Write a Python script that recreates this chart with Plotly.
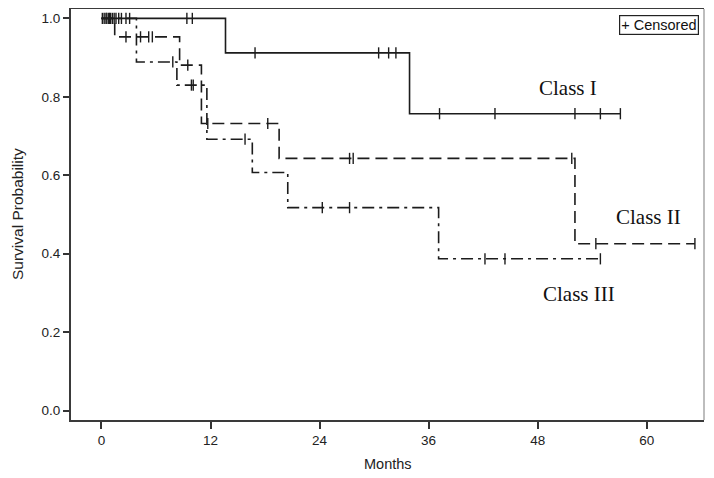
import plotly.graph_objects as go
import numpy as np

# ---- data (months, survival probability) ----
x_ticks = [0, 12, 24, 36, 48, 60]
y_ticks = [0.0, 0.2, 0.4, 0.6, 0.8, 1.0]

class1_times = [0, 13.65, 33.9, 57.1]
class1_surv = [1.0, 0.912, 0.757, 0.757]
class1_censor = [0.3, 0.6, 0.9, 1.2, 1.6, 1.9, 2.7, 3.1, 9.4, 10.0,
                 16.9, 30.5, 31.6, 32.4, 37.2, 43.3, 52.1, 54.9, 57.1]

class2_times = [0, 1.46, 8.6, 11.0, 19.55, 52.1, 65.3]
class2_surv = [1.0, 0.953, 0.881, 0.732, 0.643, 0.4255, 0.4255]
class2_censor = [0.5, 1.0, 2.7, 4.3, 5.2, 5.6, 9.5, 11.7, 18.3,
                 27.3, 27.7, 51.75, 54.4, 65.3]

class3_times = [0, 3.85, 8.3, 11.6, 16.6, 20.5, 37.1, 54.9]
class3_surv = [1.0, 0.889, 0.83, 0.692, 0.607, 0.5175, 0.387, 0.387]
class3_censor = [0.1, 0.8, 1.4, 2.2, 7.85, 9.9, 10.1, 15.8, 24.3,
                 27.3, 42.2, 44.4, 54.9]

labels = ["Class I", "Class II", "Class III"]
label_x = [51.3, 60.15, 52.5]
label_y = [0.822, 0.4935, 0.298]


def surv_at(times, surv, t):
    idx = np.searchsorted(np.array(times), t, side="right") - 1
    return surv[max(idx, 0)]


INK = "#1c1c1c"
SANS = "Liberation Sans, Arial, sans-serif"
series = [
    (class1_times, class1_surv, class1_censor, "solid"),
    (class2_times, class2_surv, class2_censor, "12px,6px"),
    (class3_times, class3_surv, class3_censor, "12px,5px,3px,5px"),
]

fig = go.Figure()
for (t, s, c, dash), name in zip(series, labels):
    fig.add_trace(go.Scatter(
        x=t, y=s, mode="lines", line=dict(shape="hv", color=INK, width=1.6, dash=dash),
        name=name, showlegend=False, hoverinfo="skip"))
    fig.add_trace(go.Scatter(
        x=c, y=[surv_at(t, s, v) for v in c], mode="markers",
        marker=dict(symbol="line-ns", size=8, color=INK, line=dict(color=INK, width=1.4)),
        name=name + " censored", showlegend=False, hoverinfo="skip"))

for txt, lx, ly in zip(labels, label_x, label_y):
    fig.add_annotation(x=lx, y=ly, text=txt, showarrow=False,
                       font=dict(family="Liberation Serif, Times New Roman, serif", size=21, color="#111"))

# legend box
fig.add_annotation(xref="paper", yref="paper", x=0.992, y=0.986, xanchor="right", yanchor="top",
                   text="+ Censored", showarrow=False,
                   font=dict(family=SANS, size=14.5, color="#111"),
                   bordercolor="#222", borderwidth=1.2, borderpad=1, bgcolor="white")

# axis titles
fig.add_annotation(xref="paper", yref="paper", x=0.5, y=-0.107, yanchor="middle",
                   text="Months", showarrow=False, font=dict(family=SANS, size=14.5, color="#222"))
fig.add_annotation(xref="paper", yref="paper", x=-0.0845, y=0.5, xanchor="center", yanchor="middle",
                   textangle=-90, text="Survival Probability", showarrow=False,
                   font=dict(family=SANS, size=15.5, color="#222"))

# right border (lighter)
fig.add_shape(type="line", xref="paper", yref="paper", x0=1, x1=1, y0=0, y1=1,
              line=dict(color="#bdbdbd", width=2))

axis_font = dict(family=SANS, size=13.5, color="#222")

# the page body adds an 8px margin, so the figure is 8px smaller and shifted accordingly
fig.update_layout(
    template="none",
    width=706, height=470,
    margin=dict(l=63, r=10, t=1, b=58, autoexpand=False),
    plot_bgcolor="white", paper_bgcolor="white",
    font=axis_font,
    xaxis=dict(range=[-3.35, 66.3], tickvals=x_ticks, ticks="outside", ticklen=7, tickwidth=1.5,
               tickcolor="#333", showline=True, linecolor="#3a3a3a", linewidth=2, mirror=True,
               showgrid=False, zeroline=False, tickfont=axis_font, automargin=False),
    yaxis=dict(range=[-0.024, 1.024], tickvals=y_ticks, tickformat=".1f", ticks="outside", ticklen=6,
               tickwidth=1.5, tickcolor="#333", showline=True, linecolor="#3a3a3a", linewidth=2,
               showgrid=False, zeroline=False, tickfont=axis_font, automargin=False),
)

fig.write_html("out.html")
